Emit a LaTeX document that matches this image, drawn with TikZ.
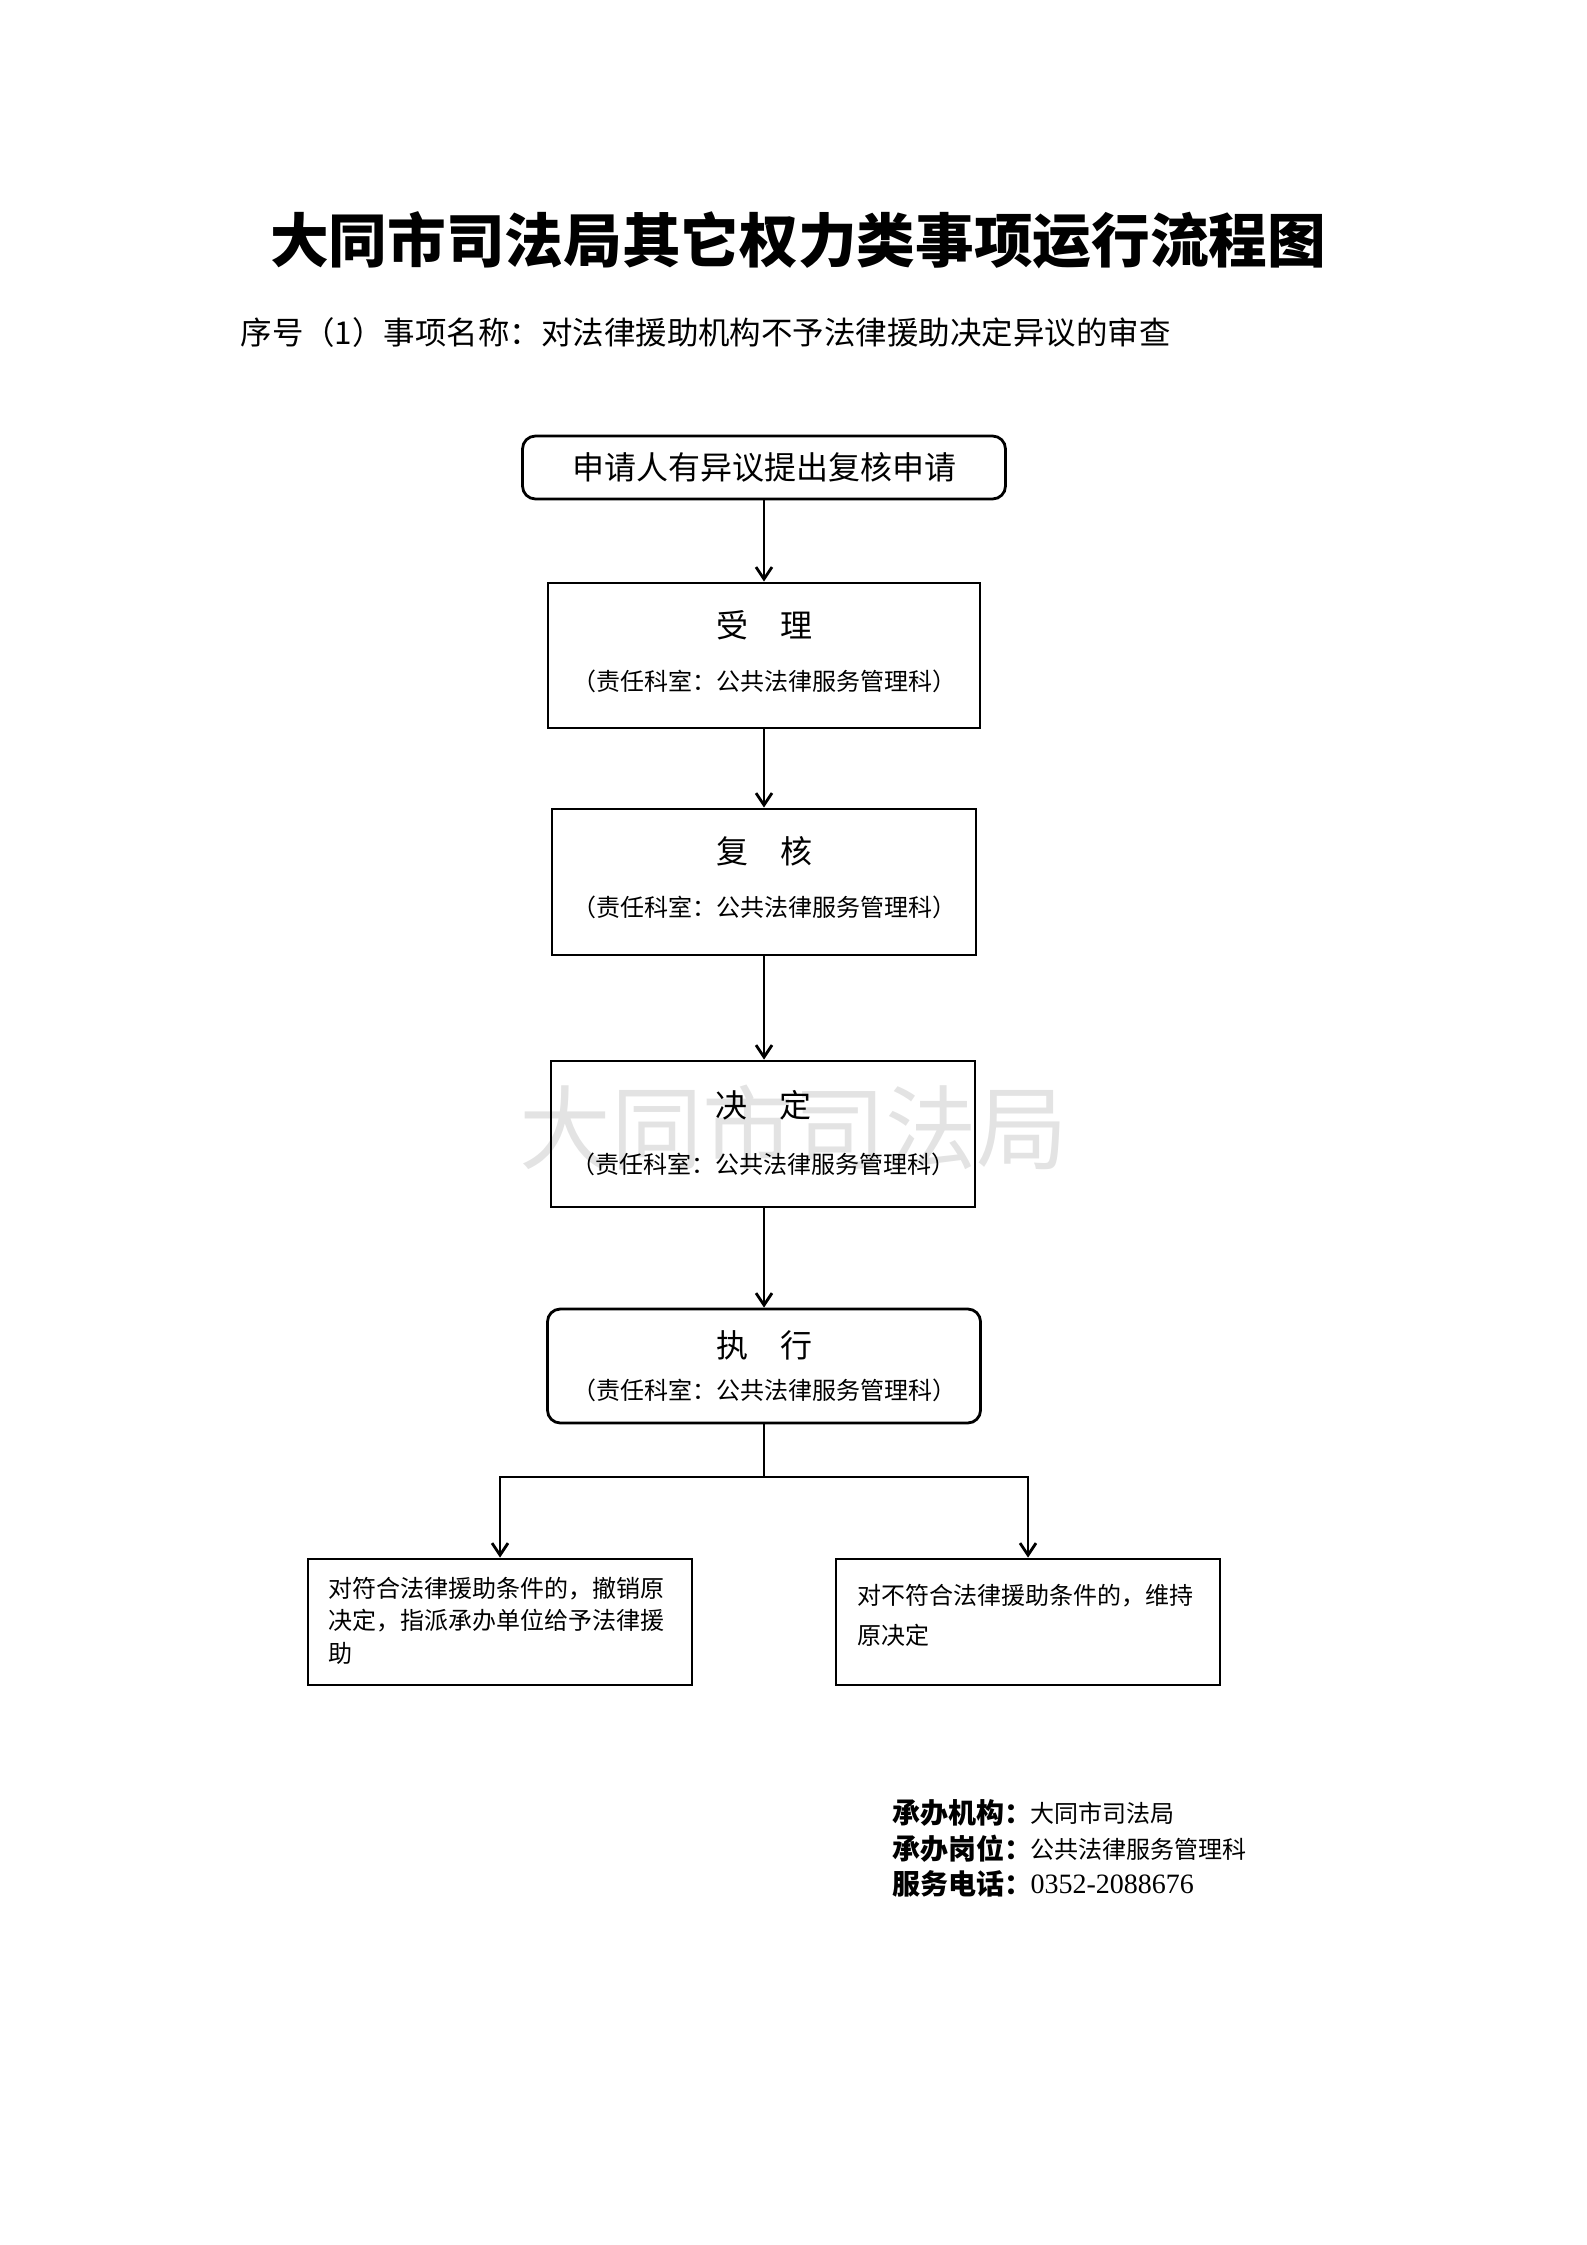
\documentclass[tikz,border=0pt]{standalone}
\usepackage{fontspec}
\usetikzlibrary{arrows.meta}
\setmainfont{Liberation Serif}
\newfontfamily\cjk{Noto Sans CJK SC}
\begin{document}
\begin{tikzpicture}[x=0.375pt,y=-0.375pt,
  box/.style={draw, line width=1.05pt, inner sep=0pt},
  rbox/.style={box, rounded corners=4.8pt},
  maintext/.style={inner sep=0pt, font=\cjk\fontsize{12}{14}\selectfont},
  subtext/.style={inner sep=0pt, font=\cjk\fontsize{9}{11}\selectfont},
  arr/.style={line width=1.05pt, -{Straight Barb[length=4.5pt,width=6pt,line width=1.05pt]}},
  conn/.style={line width=1.05pt},
  lab/.style={anchor=west, inner sep=0pt, font=\cjk\bfseries\fontsize{10.5}{12}\selectfont},
  val/.style={anchor=west, inner sep=0pt, font=\cjk\fontsize{9}{11}\selectfont}]
\useasboundingbox (0,0) rectangle (1587,2245);

% watermark
\node[inner sep=0pt, font=\cjk\fontsize{34.3}{40}\selectfont, text=black!11] (wm) at (794,1127) {大同市司法局};

% title and subtitle
\node[inner sep=0pt, font=\cjk\bfseries\fontsize{22}{26}\selectfont] (title) at (798,240) {大同市司法局其它权力类事项运行流程图};
\node[anchor=west, inner sep=0pt, font=\cjk\fontsize{11.8}{14}\selectfont] (subtitle) at (240,333) {序号（1）事项名称：对法律援助机构不予法律援助决定异议的审查};

% boxes
\node[rbox, minimum width=181.1pt, minimum height=23.6pt, font=\cjk\fontsize{12}{14}\selectfont] (b1) at (764,467.5) {申请人有异议提出复核申请};

\node[box, minimum width=162pt, minimum height=54.4pt] (b2) at (764,655.5) {};
\node[maintext] (b2a) at (764,625) {受　理};
\node[subtext] (b2b) at (764,681) {（责任科室：公共法律服务管理科）};

\node[box, minimum width=159pt, minimum height=54.75pt] (b3) at (764,882) {};
\node[maintext] (b3a) at (764,851) {复　核};
\node[subtext] (b3b) at (764,907) {（责任科室：公共法律服务管理科）};

\node[box, minimum width=159pt, minimum height=54.75pt] (b4) at (763,1134) {};
\node[maintext] (b4a) at (763,1105) {决　定};
\node[subtext] (b4b) at (763,1164) {（责任科室：公共法律服务管理科）};

\node[rbox, minimum width=162.4pt, minimum height=42.75pt] (b5) at (764,1366) {};
\node[maintext] (b5a) at (764,1345.5) {执　行};
\node[subtext] (b5b) at (764,1390) {（责任科室：公共法律服务管理科）};

\node[box, minimum width=144pt, minimum height=47.25pt] (lb) at (500,1622) {};
\node[anchor=west, align=left, inner sep=0pt, font=\cjk\fontsize{9}{12.2}\selectfont] (lbt) at (328,1620.5) {对符合法律援助条件的，撤销原\\决定，指派承办单位给予法律援\\助};

\node[box, minimum width=144pt, minimum height=47.25pt] (rb) at (1028,1622) {};
\node[anchor=west, align=left, inner sep=0pt, font=\cjk\fontsize{9}{14.8}\selectfont] (rbt) at (857,1615.5) {对不符合法律援助条件的，维持\\原决定};

% connectors
\draw[arr] (b1.south) -- (b2.north);
\draw[arr] (b2.south) -- (b3.north);
\draw[arr] (b3.south) -- (b3.south |- b4.north);
\draw[arr] (b4.south -| b5.north) -- (b5.north);
\coordinate (jn) at (764,1477);
\draw[conn] (b5.south) -- (jn);
\draw[arr] (jn) -| (lb.north);
\draw[arr] (jn) -| (rb.north);

% footer
\node[lab] (f1) at (892,1813) {承办机构：};
\node[val] (v1) at (1030,1813) {大同市司法局};
\node[lab] (f2) at (892,1849) {承办岗位：};
\node[val] (v2) at (1030,1849) {公共法律服务管理科};
\node[lab] (f3) at (892,1884) {服务电话：};
\node[anchor=west, inner sep=0pt, font=\fontsize{10.5}{12}\selectfont] (v3) at (1030,1884) {0352-2088676};
\end{tikzpicture}
\end{document}
